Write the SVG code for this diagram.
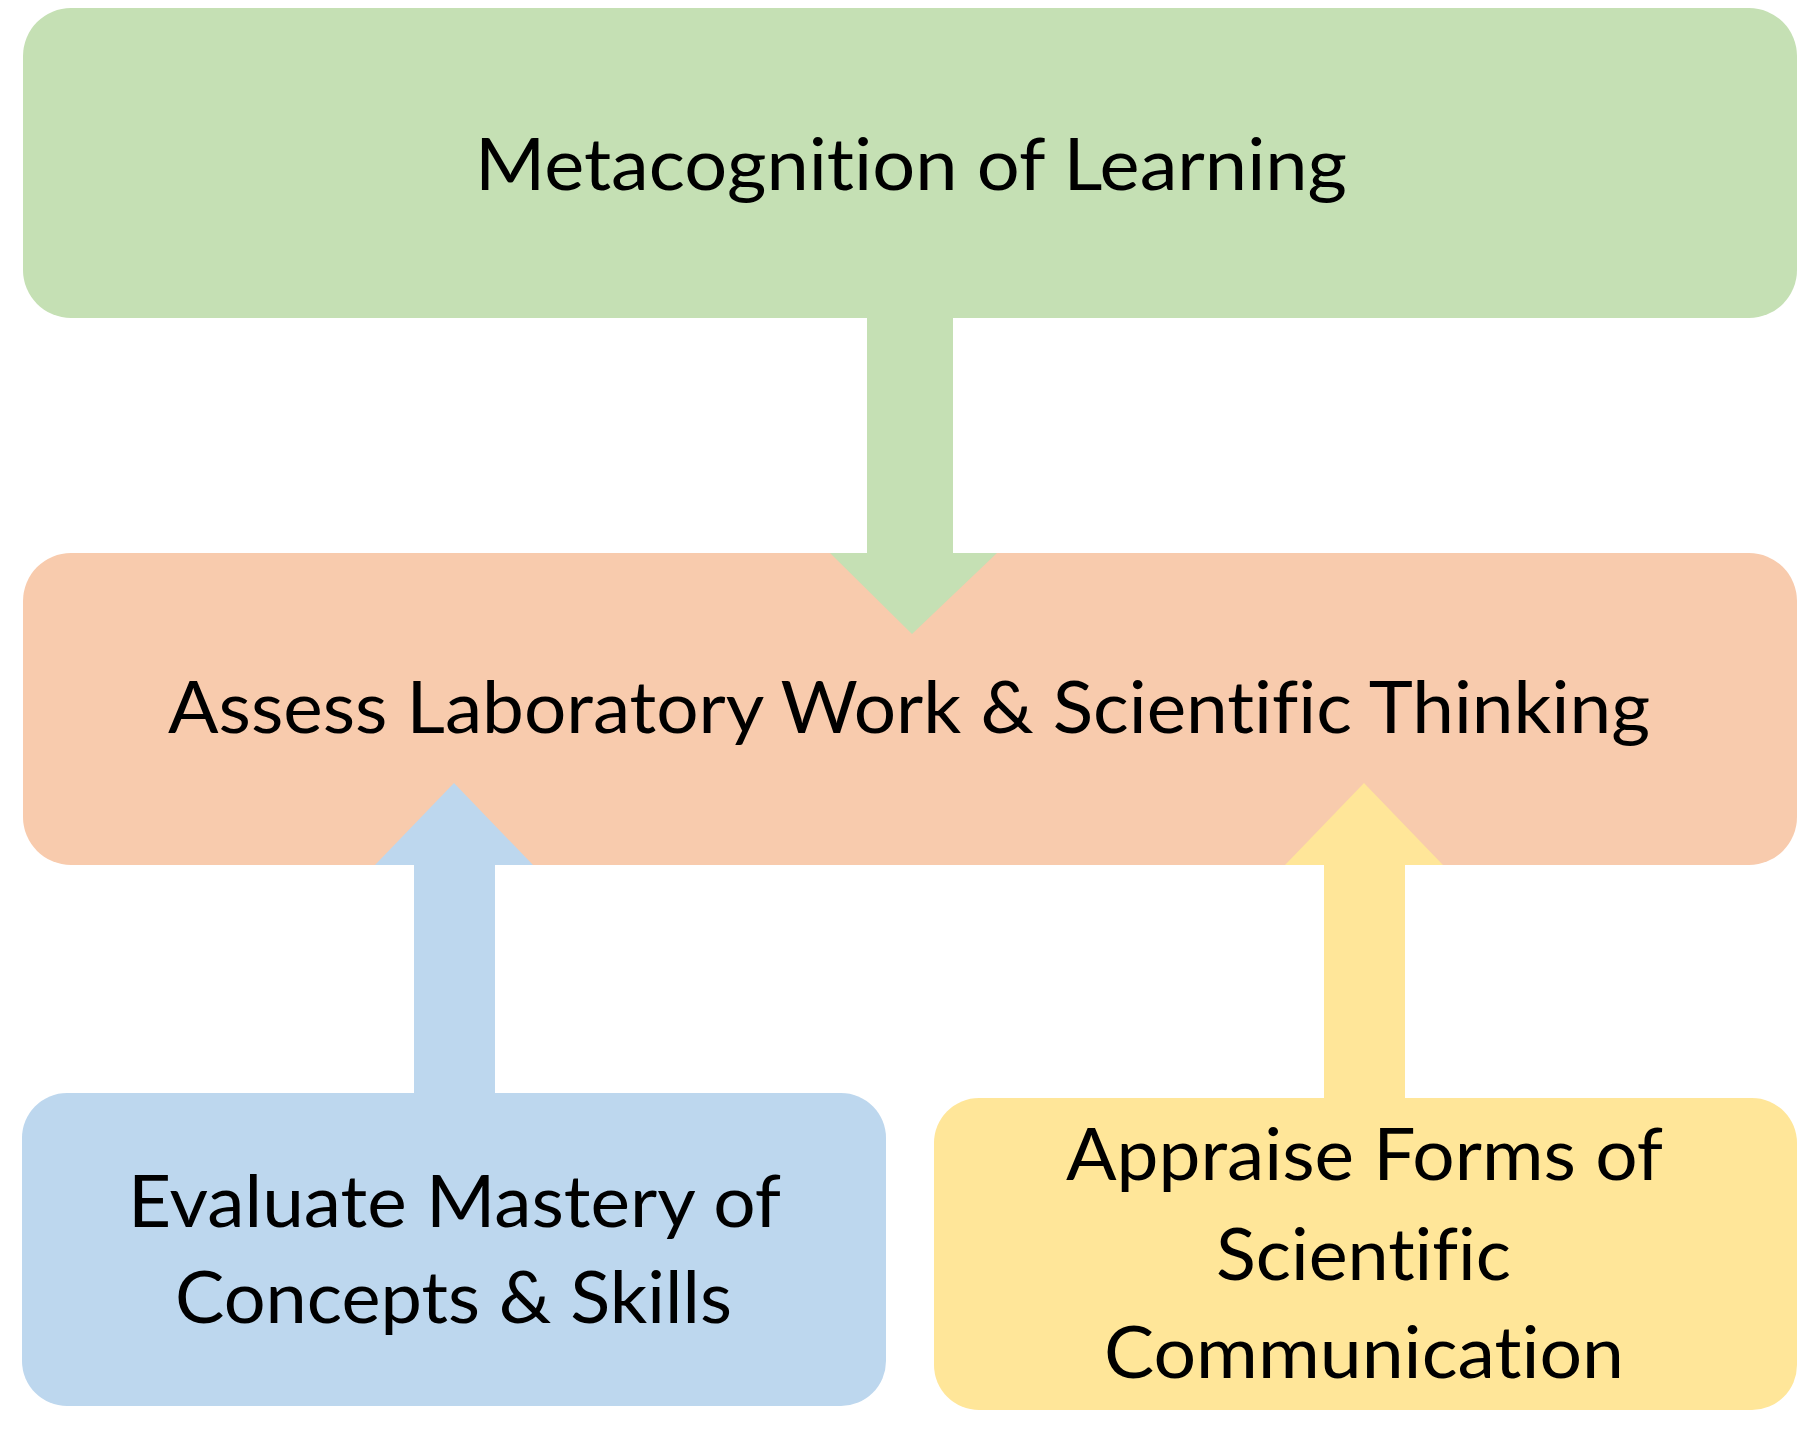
<svg xmlns="http://www.w3.org/2000/svg" width="1800" height="1434" viewBox="0 0 1800 1434">
<style>
.lbl{font-family:Lato,"Open Sans","Liberation Sans",sans-serif;font-size:71px;fill:#000;font-variant-ligatures:none;font-feature-settings:"liga" 0,"dlig" 0;}
.green{fill:#C5E0B4;}
.orange{fill:#F8CBAD;}
.blue{fill:#BDD7EE;}
.yellow{fill:#FFE699;}
</style>
<rect width="1800" height="1434" fill="#FFFFFF"/>
<g id="node-metacognition">
<rect class="green" x="23" y="8" width="1774" height="310" rx="48" ry="48"/>
<text class="lbl" x="475" y="190" textLength="872" lengthAdjust="spacingAndGlyphs">Metacognition of Learning</text>
</g>
<g id="node-assess">
<rect class="orange" x="23" y="553" width="1774" height="312" rx="48" ry="48"/>
<text class="lbl" x="168" y="733" textLength="1482" lengthAdjust="spacingAndGlyphs">Assess Laboratory Work &amp; Scientific Thinking</text>
</g>
<g id="node-evaluate">
<rect class="blue" x="22" y="1093" width="864" height="313" rx="45" ry="45"/>
<text class="lbl" x="128" y="1227" textLength="653" lengthAdjust="spacingAndGlyphs">Evaluate Mastery of</text>
<text class="lbl" x="175" y="1323" textLength="557" lengthAdjust="spacingAndGlyphs">Concepts &amp; Skills</text>
</g>
<g id="node-appraise">
<rect class="yellow" x="934" y="1098" width="863" height="312" rx="45" ry="45"/>
<text class="lbl" x="1066" y="1180" textLength="597" lengthAdjust="spacingAndGlyphs">Appraise Forms of</text>
<text class="lbl" x="1216" y="1280" textLength="295" lengthAdjust="spacingAndGlyphs">Scientific</text>
<text class="lbl" x="1104" y="1378" textLength="520" lengthAdjust="spacingAndGlyphs">Communication</text>
</g>
<g id="connectors">
<polygon class="green" points="867,316 953,316 953,553 997,553 912,634 830,553 867,553"/>
<polygon class="blue" points="414,1095 495,1095 495,865 533,865 454,783 375,865 414,865"/>
<polygon class="yellow" points="1324,1100 1405,1100 1405,865 1443,865 1364,783 1285,865 1324,865"/>
</g>
</svg>
